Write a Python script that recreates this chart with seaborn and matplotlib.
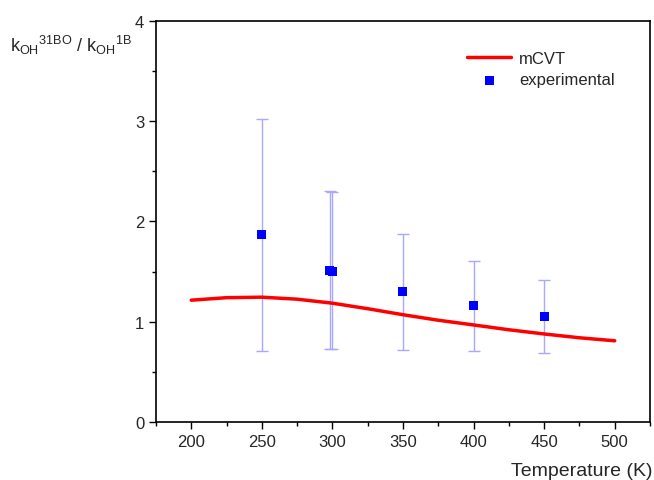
import numpy as np
import pandas as pd
import matplotlib
matplotlib.use('Agg')
import matplotlib.pyplot as plt
import seaborn as sns
from matplotlib.ticker import MultipleLocator

# mCVT ratio curve
temp_curve = [200, 225, 250, 275, 300, 325, 350, 375, 400, 425, 450, 475, 500]
ratio_curve = [1.215, 1.24, 1.245, 1.225, 1.185, 1.13, 1.07, 1.015, 0.968, 0.92, 0.878, 0.84, 0.81]

# experimental points with error bar limits
temp_exp = [250, 298, 300, 350, 400, 450]
ratio_exp = [1.868, 1.516, 1.506, 1.297, 1.157, 1.057]
err_high = [3.02, 2.307, 2.29, 1.875, 1.603, 1.42]
err_low = [0.71, 0.728, 0.728, 0.721, 0.705, 0.685]

sns.set_style('white')
plt.rcParams['font.family'] = ['Liberation Sans', 'DejaVu Sans']
plt.rcParams['mathtext.fontset'] = 'custom'
plt.rcParams['mathtext.rm'] = 'Liberation Sans'
plt.rcParams['mathtext.it'] = 'Liberation Sans'

fig = plt.figure(figsize=(6.54, 4.81), dpi=100)
ax = fig.add_axes([0.2385, 0.1206, 0.7554, 0.8337])

curve = pd.DataFrame({'T': temp_curve, 'ratio': ratio_curve})
exp = pd.DataFrame({'T': temp_exp, 'ratio': ratio_exp})

yerr = [np.array(ratio_exp) - np.array(err_low), np.array(err_high) - np.array(ratio_exp)]
ax.errorbar(temp_exp, ratio_exp, yerr=yerr, fmt='none', ecolor='#a8a8ff',
            elinewidth=1.0, capsize=4, capthick=1.0, zorder=1)

sns.lineplot(data=curve, x='T', y='ratio', ax=ax, color='red', linewidth=2.5,
             label='mCVT', zorder=2)
sns.scatterplot(data=exp, x='T', y='ratio', ax=ax, color='blue', marker='s', s=42,
                edgecolor='none', label='experimental', zorder=3)

ax.set_xlim(175, 525)
ax.set_ylim(0, 4)
ax.xaxis.set_major_locator(MultipleLocator(50))
ax.xaxis.set_minor_locator(MultipleLocator(25))
ax.yaxis.set_major_locator(MultipleLocator(1))
ax.yaxis.set_minor_locator(MultipleLocator(0.5))
ax.tick_params(which='major', direction='out', length=5, width=1, labelsize=12,
               bottom=True, left=True, top=False, right=False, color='black')
ax.tick_params(which='minor', direction='out', length=3, width=1,
               bottom=True, left=True, top=False, right=False, color='black')
ax.set_xticks(range(200, 501, 50))
for s in ax.spines.values():
    s.set_color('black')
    s.set_linewidth(1.2)

ax.set_xlabel('')
ax.set_ylabel('')
fig.text(0.997, 0.003, 'Temperature (K)', ha='right', va='bottom', fontsize=14)
fig.text(0.015, 0.905,
         r'$\mathregular{k_{OH}{}^{31BO}\ /\ k_{OH}{}^{1B}}$',
         ha='left', va='center', fontsize=13)

ax.legend(loc='upper left', bbox_to_anchor=(0.6, 0.963), frameon=False, fontsize=12,
          handlelength=2.6, handletextpad=0.5, labelspacing=0.4)

fig.savefig('out.png', dpi=100)
